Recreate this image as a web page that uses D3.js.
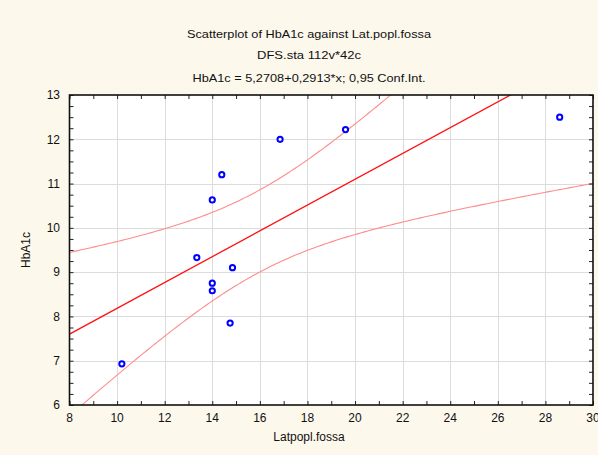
<!DOCTYPE html>
<html>
<head>
<meta charset="utf-8">
<script src="https://cdn.jsdelivr.net/npm/d3@7"></script>
<style>
  html, body { margin: 0; padding: 0; background: #FDF8EC; }
  svg { display: block; }
  text { font-family: "Liberation Sans", Arial, sans-serif; fill: #111; }
</style>
</head>
<body>
<svg id="chart" width="598" height="455"></svg>
<script>
// Observations: Lat.popl.fossa vs HbA1c
const latPopl = [10.2, 14.0, 14.0, 14.75, 13.35, 14.85, 14.0, 14.4, 16.85, 19.6, 28.6];
const hba1c   = [6.93, 8.75, 8.58, 7.85, 9.33, 9.10, 10.63, 11.2, 12.0, 12.22, 12.5];

// Fitted line as stated in the header
const intercept = 5.2708;
const slope = 0.2913;
const confLevel = 0.95;
const tCrit = 2.262; // t(0.975, df = 9)

const xTicks = [8, 10, 12, 14, 16, 18, 20, 22, 24, 26, 28, 30];
const yTicks = [6, 7, 8, 9, 10, 11, 12, 13];

const titleLines = [
  "Scatterplot of HbA1c against Lat.popl.fossa",
  "DFS.sta 112v*42c",
  "HbA1c = 5,2708+0,2913*x; 0,95 Conf.Int."
];

const svg = d3.select("#chart");
const L = 69.5, R = 593, T = 95, B = 405;

const x = d3.scaleLinear().domain([8, 30]).range([L, R]);
const y = d3.scaleLinear().domain([6, 13]).range([B, T]);

// plot area
svg.append("rect").attr("x", L).attr("y", T).attr("width", R - L).attr("height", B - T)
  .attr("fill", "#fff");

// grid
const grid = svg.append("g").attr("stroke", "#DCDCDC").attr("stroke-width", 1);
xTicks.slice(1, -1).forEach(v => grid.append("line")
  .attr("x1", Math.round(x(v)) + 0.5).attr("x2", Math.round(x(v)) + 0.5).attr("y1", T).attr("y2", B));
yTicks.slice(1, -1).forEach(v => grid.append("line")
  .attr("y1", Math.round(y(v)) + 0.5).attr("y2", Math.round(y(v)) + 0.5).attr("x1", L).attr("x2", R));

// clip
svg.append("clipPath").attr("id", "clip").append("rect")
  .attr("x", L).attr("y", T).attr("width", R - L).attr("height", B - T);

// confidence band from the residuals about the stated line
const n = latPopl.length;
const xMean = d3.mean(latPopl);
const sxx = d3.sum(latPopl, v => (v - xMean) ** 2);
const sse = d3.sum(latPopl, (v, i) => (hba1c[i] - (intercept + slope * v)) ** 2);
const se = Math.sqrt(sse / (n - 2));
const xs = d3.range(8, 30.001, 0.1);
const fit = v => intercept + slope * v;
const half = v => tCrit * se * Math.sqrt(1 / n + (v - xMean) ** 2 / sxx);

const lineGen = d3.line().x(d => x(d[0])).y(d => y(d[1]));
const curves = svg.append("g").attr("clip-path", "url(#clip)").attr("fill", "none");
curves.append("path").datum(xs.map(v => [v, fit(v) + half(v)]))
  .attr("d", lineGen).attr("stroke", "#FF8C8C").attr("stroke-width", 1.1);
curves.append("path").datum(xs.map(v => [v, fit(v) - half(v)]))
  .attr("d", lineGen).attr("stroke", "#FF8C8C").attr("stroke-width", 1.1);
curves.append("path").datum([[8, fit(8)], [30, fit(30)]])
  .attr("d", lineGen).attr("stroke", "#FF1010").attr("stroke-width", 1.3);

// points
svg.append("g").selectAll("circle").data(latPopl).join("circle")
  .attr("cx", d => x(d)).attr("cy", (d, i) => y(hba1c[i])).attr("r", 2.6)
  .attr("fill", "#fff").attr("stroke", "#0000FF").attr("stroke-width", 2);

// axes with inward ticks
const axLeft = svg.append("g").attr("transform", `translate(${L},0)`)
  .call(d3.axisRight(y).tickValues(d3.range(6, 13.001, 0.25)).tickSize(4).tickFormat(""));
const axRight = svg.append("g").attr("transform", `translate(${R},0)`)
  .call(d3.axisLeft(y).tickValues(d3.range(6, 13.001, 0.25)).tickSize(4).tickFormat(""));
const axBottom = svg.append("g").attr("transform", `translate(0,${B})`)
  .call(d3.axisTop(x).tickValues(d3.range(8, 30.001, 1)).tickSize(4).tickFormat(""));
const axTop = svg.append("g").attr("transform", `translate(0,${T})`)
  .call(d3.axisBottom(x).tickValues(d3.range(8, 30.001, 1)).tickSize(4).tickFormat(""));
[axLeft, axRight, axBottom, axTop].forEach(g => {
  g.select(".domain").remove();
  g.selectAll("line").attr("stroke", "#222").attr("stroke-width", 1);
});
svg.append("rect").attr("x", L).attr("y", T).attr("width", R - L).attr("height", B - T)
  .attr("fill", "none").attr("stroke", "#111").attr("stroke-width", 1.6);

// tick labels
svg.append("g").selectAll("text").data(xTicks).join("text")
  .attr("x", d => x(d)).attr("y", 422).attr("text-anchor", "middle")
  .attr("font-size", 12).text(d => d);
svg.append("g").selectAll("text").data(yTicks).join("text")
  .attr("x", 60).attr("y", d => y(d) + 4.3).attr("text-anchor", "end")
  .attr("font-size", 12).text(d => d);

// titles
const titleY = [37.5, 58.5, 81.5];
const titleW = [244, 104, 233];
svg.append("g").selectAll("text").data(titleLines).join("text")
  .attr("x", 309).attr("y", (d, i) => titleY[i]).attr("text-anchor", "middle")
  .attr("font-size", 11.5).attr("textLength", (d, i) => titleW[i]).attr("lengthAdjust", "spacingAndGlyphs")
  .text(d => d);

// axis titles
svg.append("text").attr("x", 309).attr("y", 441).attr("text-anchor", "middle")
  .attr("font-size", 12).text("Latpopl.fossa");
svg.append("text").attr("transform", "translate(30,250) rotate(-90)").attr("text-anchor", "middle")
  .attr("font-size", 12).text("HbA1c");
</script>
</body>
</html>
